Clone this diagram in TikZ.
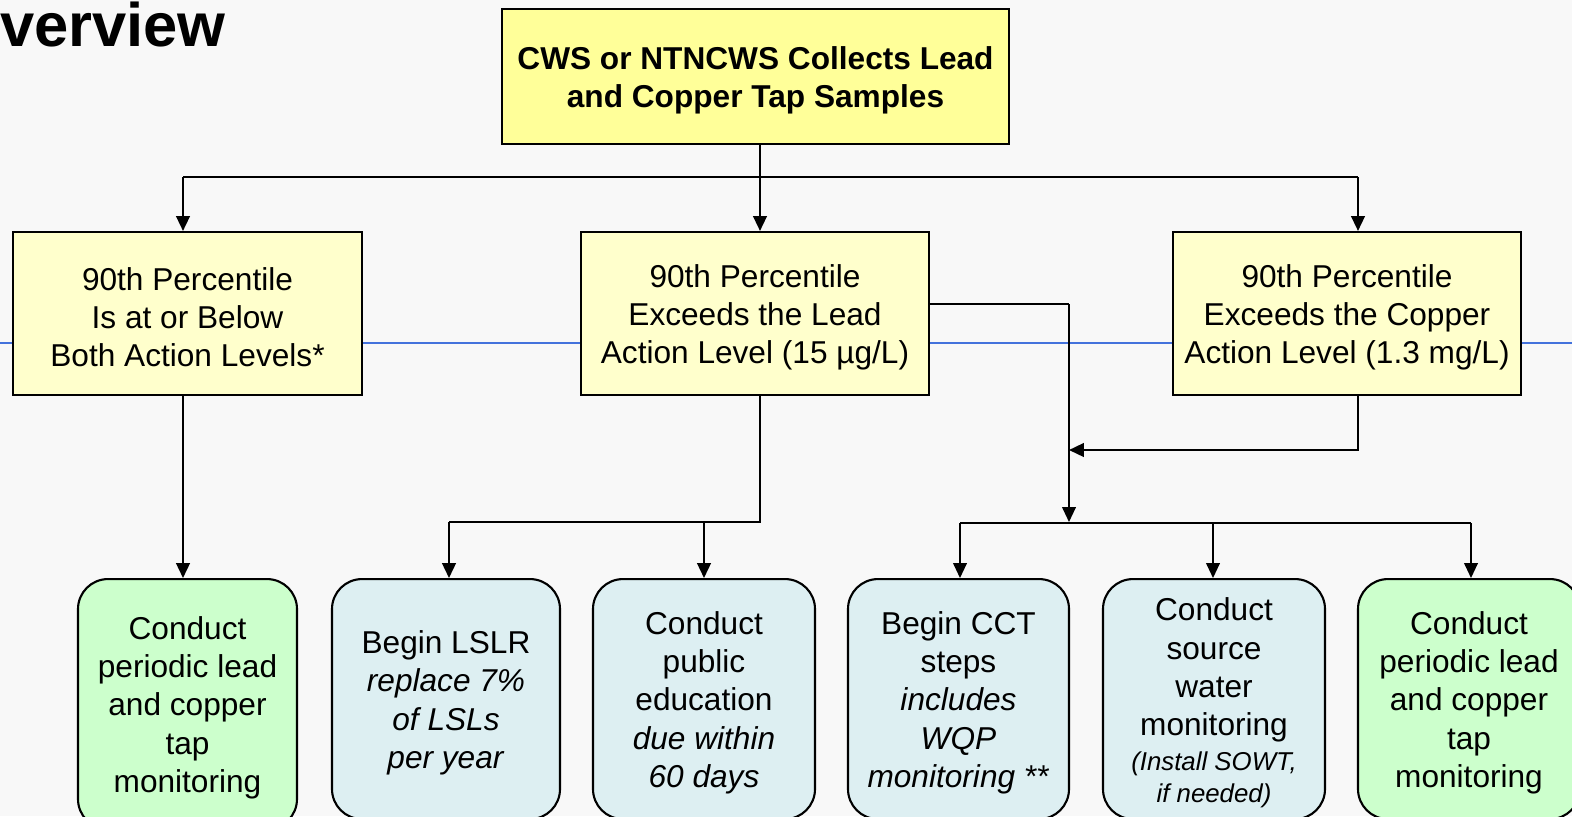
\documentclass[tikz,border=0pt]{standalone}
\usepackage{fontspec}
\setmainfont{Liberation Sans}
\usetikzlibrary{arrows.meta}
\definecolor{headyellow}{RGB}{255,255,153}
\definecolor{levelyellow}{RGB}{255,255,204}
\definecolor{okgreen}{RGB}{204,255,204}
\definecolor{actionblue}{RGB}{221,239,242}
\definecolor{guideblue}{RGB}{68,114,220}
\definecolor{slidebg}{RGB}{248,248,248}
\newdimen\pxu
\pxu=0.02cm
% strut on the first line, sets the text a little lower in its box
\newcommand\padtop{\rule{0pt}{17.3pt}}
\tikzset{
    levelbox/.style={draw, line width=1.2pt, fill=levelyellow, align=center,
        inner sep=0pt, font=\fontsize{18}{21.8}\selectfont},
    actionbox/.style={draw, line width=1.2pt, fill=actionblue, align=center,
        inner sep=0pt, rounded corners=0.6cm, anchor=north,
        minimum width=222\pxu, minimum height=240\pxu,
        font=\fontsize{18}{21.8}\selectfont},
    bus/.style={line width=1.5pt},
    drop/.style={line width=1.2pt},
    thinbus/.style={line width=0.9pt},
    tip/.style={-{Triangle[length=8.5pt, width=7.8pt]}},
}
\begin{document}
\begin{tikzpicture}[x=0.02cm, y=-0.02cm]
        \useasboundingbox (0,0) rectangle (1572,816);
        \fill[slidebg] (0,0) rectangle (1572,816);
        %title and guide line
        \node[anchor=base east, inner sep=0pt, font=\bfseries\fontsize{35}{40}\selectfont] (title) at (226,46) {verview};
        \draw[guideblue, line width=0.6pt] (0,343) -- (1572,343);
        %draw top box and level boxes
        \node[levelbox, fill=headyellow, minimum width=507\pxu, minimum height=135\pxu, font=\bfseries\fontsize{18}{21.8}\selectfont] (samples) at (755.5,76.5) {\padtop CWS or NTNCWS Collects Lead\\and Copper Tap Samples};
        \node[levelbox, minimum width=349\pxu, minimum height=163\pxu] (below) at (187.5,313.5) {\padtop 90th Percentile\\Is at or Below\\Both Action Levels*};
        \node[levelbox, minimum width=348\pxu, minimum height=163\pxu] (lead) at (755,313.5) {\padtop 90th Percentile\\Exceeds the Lead\\Action Level (15 µg/L)};
        \node[levelbox, minimum width=348\pxu, minimum height=163\pxu] (copper) at (1347,313.5) {\padtop 90th Percentile\\Exceeds the Copper\\Action Level (1.3 mg/L)};
        %draw action boxes
        \node[actionbox, fill=okgreen, minimum width=219\pxu, minimum height=250\pxu] (periodicA) at (187.5,578) {\padtop Conduct\\periodic lead\\and copper\\tap\\monitoring};
        \node[actionbox, minimum width=228\pxu] (lslr) at (446,578) {\padtop Begin LSLR\\\textit{replace 7\%}\\\textit{of LSLs}\\\textit{per year}};
        \node[actionbox] (pubed) at (704,578) {\padtop Conduct\\public\\education\\\textit{due within}\\\textit{60 days}};
        \node[actionbox, minimum width=221\pxu] (cct) at (958.5,578) {\padtop Begin CCT\\steps\\\textit{includes}\\\textit{WQP}\\\textit{monitoring **}};
        \node[actionbox] (source) at (1214,578) {\padtop Conduct\\source\\water\\monitoring\\[-2pt]{\fontsize{14.7}{18.7}\selectfont\itshape (Install SOWT,}\\[-3.7pt]{\fontsize{14.7}{18.7}\selectfont\itshape if needed)}};
        \node[actionbox, fill=okgreen] (periodicB) at (1469,578) {\padtop Conduct\\periodic lead\\and copper\\tap\\monitoring};
        %junction points
        \coordinate (busL) at (183,177);
        \coordinate (busT) at (760,177);
        \coordinate (busR) at (1358,177);
        \coordinate (leadJ) at (760,522);
        \coordinate (lslrJ) at (449,522);
        \coordinate (pubedJ) at (704,522);
        \coordinate (elbow) at (1069,304);
        \coordinate (treatJ) at (1069,522);
        \coordinate (cuJ) at (1358,450);
        \coordinate (cuEnd) at (1069,450);
        \coordinate (cctJ) at (960,523);
        \coordinate (sourceJ) at (1213,523);
        \coordinate (periodicJ) at (1471,523);
        %connect top box to level boxes
        \draw[bus, line width=1.35pt] (samples.south -| busT) -- (busT);
        \draw[bus, line width=1.6pt] (busL) -- (busR);
        \draw[drop, tip] (busL) -- (busL |- below.north);
        \draw[drop, tip] (busT) -- (busT |- lead.north);
        \draw[drop, tip] (busR) -- (busR |- copper.north);
        %below both levels
        \draw[drop, tip] (busL |- below.south) -- (busL |- periodicA.north);
        %lead exceedance
        \draw[bus, line width=1.35pt] (leadJ |- lead.south) -- (leadJ) -- (lslrJ);
        \draw[drop, tip] (lslrJ) -- (lslrJ |- lslr.north);
        \draw[drop, tip] (pubedJ) -- (pubedJ |- pubed.north);
        \draw[bus, line width=1.35pt] (elbow -| lead.east) -- (elbow);
        \draw[thinbus, tip] (elbow) -- (treatJ);
        %copper exceedance
        \draw[drop, tip] (cuJ |- copper.south) -- (cuJ) -- (cuEnd);
        %treatment branch
        \draw[thinbus] (cctJ) -- (periodicJ);
        \draw[thinbus, tip] (cctJ) -- (cctJ |- cct.north);
        \draw[thinbus, tip] (sourceJ) -- (sourceJ |- source.north);
        \draw[thinbus, tip] (periodicJ) -- (periodicJ |- periodicB.north);
\end{tikzpicture}
\end{document}
